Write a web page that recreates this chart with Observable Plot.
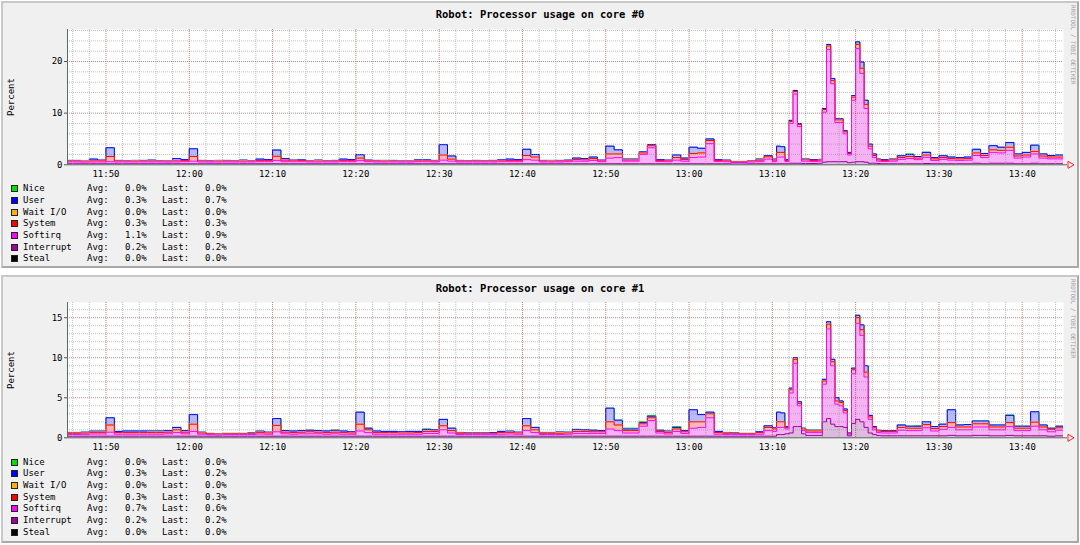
<!DOCTYPE html>
<html><head><meta charset="utf-8">
<script src="https://cdn.jsdelivr.net/npm/d3@7"></script>
<script src="https://cdn.jsdelivr.net/npm/@observablehq/plot@0.6"></script>
<style>
html,body{margin:0;padding:0;background:#fff;}
body{width:1080px;height:545px;overflow:hidden;position:relative;font-family:"DejaVu Sans Mono",monospace;color:#000;}
.panel{position:absolute;box-sizing:border-box;background:#f0f0f0;border-style:solid;border-width:2px;border-color:#c8c8c8 #a8a8a8 #a8a8a8 #c8c8c8;}
.title{position:absolute;left:0;width:1080px;text-align:center;font-weight:bold;font-size:10.5px;line-height:12px;}
.ylab{position:absolute;font-size:9px;line-height:10px;white-space:nowrap;transform:translate(-50%,-50%) rotate(-90deg);}
.credit{position:absolute;writing-mode:vertical-rl;font-size:6px;line-height:7px;color:#a0a0a0;white-space:nowrap;}
.leg{position:absolute;font-size:9px;line-height:11px;white-space:pre;}
.sq{position:absolute;width:5px;height:5px;border:1px solid #222;}
.chart{position:absolute;left:0;}
</style></head><body>
<script>
// ---- time axis: minutes after 11:45 ----
const minutes = [
0,1,2,3,4,5,6,7,8,9,
10,11,12,13,14,15,16,17,18,19,
20,21,22,23,24,25,26,27,28,29,
30,31,32,33,34,35,36,37,38,39,
40,41,42,43,44,45,46,47,48,49,
50,51,52,53,54,55,56,57,58,59,
60,61,62,63,64,65,66,67,68,69,
70,71,72,73,74,75,76,77,78,79,
80,81,82,83,84,85,
85.5,86,86.5,87,87.5,88,88.5,89,89.5,90,90.5,91,91.5,92,92.5,93,93.5,94,94.5,95,95.5,96,96.5,97,97.5,98,
99,100,101,102,103,104,105,106,107,108,109,110,111,112,113,114,115,116,117,118,119,120];

const xTickMinutes = [5,15,25,35,45,55,65,75,85,95,105,115];
const xTickLabels = ["11:50","12:00","12:10","12:20","12:30","12:40","12:50","13:00","13:10","13:20","13:30","13:40"];

const titles = ["Robot: Processor usage on core #0","Robot: Processor usage on core #1"];
const seriesNames = ["Nice","User","Wait I/O","System","Softirq","Interrupt","Steal"];
const avg0 = [0.0,0.3,0.0,0.3,1.1,0.2,0.0];
const last0 = [0.0,0.7,0.0,0.3,0.9,0.2,0.0];
const avg1 = [0.0,0.3,0.0,0.3,0.7,0.2,0.0];
const last1 = [0.0,0.2,0.0,0.3,0.6,0.2,0.0];

const yTicks0 = [0,10,20];
const yMinor0 = [2,4,6,8,12,14,16,18,22,24,26];
const yTicks1 = [0,5,10,15];
const yMinor1 = [1,2,3,4,6,7,8,9,11,12,13,14,16];

// ---- core #0 ----
const nice0 = [
0,0,0,0,0,0,0,0,0,0, 0,0,0,0,0,0,0,0,0,0, 0,0,0,0,0,0,0,0,0,0, 0,0,0,0,0,0,0,0,0,0,
0,0,0,0,0,0,0,0,0,0, 0,0,0,0,0,0,0,0,0,0, 0,0,0,0,0,0,0,0,0,0, 0,0,0,0,0,0,0,0,0,0,
0,0,0,0,0,0,0,0,0,0, 0,0,0,0,0,0,0,0,0,0, 0,0,0,0,0,0,0,0,0,0,
0,0,0,0,.1,0,.05,0,0,0, 0,0,0,0,0,0,0,0,0,0, 0,0,0,0];
const user0 = [
.15,.15,.1,.35,.15,1.7,.15,.1,.1,.15,
.2,.1,.1,.45,.2,1.5,.15,.15,.1,.15,
.1,.15,.1,.3,.2,1.2,.3,.15,.15,.1,
.15,.1,.15,.3,.2,.65,.15,.15,.1,.15,
.1,.1,.15,.2,.15,2.0,.6,.15,.1,.15,
.1,.15,.15,.3,.2,1.2,.5,.15,.1,.15,
.15,.3,.25,.3,.15,1.5,.8,.2,.2,.2,
.2,.15,.15,.5,.3,1.2,.9,.3,.15,.15,
.1,.1,.1,.2,.2,.2,
1.2,1.1,.15,.2,.2,.2,.15,.15,.15,.15,.15,.2,.3,.4,.2,.2,.2,.2,.3,.5,1.2,.8,.4,.3,.15,.15,
.15,.35,.4,.3,.5,.25,.35,.3,.25,.3,.7,.4,.8,.6,.9,.4,.5,1.2,.4,.3,.4,.5];
const wait0 = [
0,0,.05,0,0,0,0,0,.05,0, 0,0,0,0,0,0,0,0,.05,0, 0,.05,0,0,0,0,0,0,0,0, .05,0,0,0,0,0,0,0,.05,0,
0,0,.05,0,0,0,0,0,0,0, 0,0,.05,0,0,0,0,0,.05,0, 0,0,0,0,0,0,0,0,0,0, 0,0,0,0,0,0,0,0,0,0,
0,0,0,0,0,0,0,0,0,0, 0,0,0,0,0,0,0,0,0,0, 0,0,0,0,0,0,0,0,0,0,
0,0,0,0,0,0,0,0,0,0, 0,0,0,0,0,0,0,0,0,0, 0,0,0,0];
const system0 = [
.15,.15,.15,.2,.2,1.0,.15,.15,.15,.15,
.15,.15,.15,.2,.2,.9,.15,.15,.15,.15,
.15,.15,.15,.2,.2,.8,.3,.15,.2,.15,
.15,.15,.15,.2,.2,.5,.15,.15,.15,.15,
.15,.15,.15,.15,.15,1.0,.4,.15,.15,.15,
.15,.15,.15,.2,.2,.8,.6,.15,.15,.15,
.15,.3,.25,.35,.15,.8,.7,.2,.2,.3,
.4,.2,.15,.5,.3,.8,.8,.6,.2,.15,
.1,.1,.15,.3,.45,.3,
.9,.9,.2,.4,.5,.4,.25,.25,.2,.2,.2,.5,.7,.6,.5,.5,.4,.3,.6,.8,1.0,.8,.5,.4,.25,.2,
.25,.35,.4,.3,.45,.3,.35,.3,.3,.3,.5,.4,.5,.5,.6,.4,.4,.5,.4,.35,.35,.3];
const softirq0 = [
.35,.35,.33,.35,.35,.4,.35,.35,.35,.35,
.35,.35,.33,.35,.4,.5,.35,.33,.35,.35,
.35,.35,.35,.4,.4,.65,.4,.4,.4,.35,
.35,.35,.35,.4,.4,.6,.4,.35,.35,.35,
.33,.33,.4,.4,.35,.7,.5,.35,.35,.35,
.35,.35,.4,.4,.4,.8,.7,.35,.35,.35,
.4,.5,.5,.65,.4,1.1,1.2,.5,.5,1.8,
3.1,.45,.4,.7,.5,1.2,1.3,3.9,.45,.4,
.3,.3,.35,.4,.9,.4,
1.3,1.3,.45,7.7,13.4,7.1,.45,.45,.4,.4,.4,9.7,21.7,15.1,7.6,7.6,5.4,1.5,12.0,21.9,17.1,10.4,2.8,1.1,.45,.45,
.5,.85,1.0,.8,1.2,.65,.85,.7,.65,.7,1.5,1.2,2.1,2.0,2.5,1.1,1.3,1.8,1.1,.95,.95,.9];
const interrupt0 = [
.2,.2,.2,.2,.2,.2,.2,.2,.2,.2, .2,.2,.2,.2,.2,.2,.2,.2,.2,.2,
.2,.2,.2,.2,.2,.2,.2,.2,.2,.2, .2,.2,.2,.2,.2,.2,.2,.2,.2,.2,
.2,.2,.2,.2,.2,.2,.2,.2,.2,.2, .2,.2,.2,.2,.2,.2,.2,.2,.2,.2,
.2,.2,.2,.2,.2,.2,.2,.2,.2,.2, .2,.2,.2,.2,.2,.2,.2,.2,.2,.2,
.15,.15,.2,.2,.2,.2,
.2,.2,.2,.3,.3,.3,.25,.25,.25,.25,.3,.5,.6,.6,.6,.6,.6,.4,.5,.6,.6,.5,.3,.3,.25,.2,
.2,.2,.2,.2,.25,.2,.2,.2,.2,.2,.3,.2,.3,.3,.3,.2,.2,.3,.2,.2,.2,.2];
const steal0 = [
0,0,0,0,0,0,0,0,0,0, 0,0,0,0,0,0,0,0,0,0, 0,0,0,0,0,0,0,0,0,0, 0,0,0,0,0,0,0,0,0,0,
0,0,0,0,0,0,0,0,0,0, 0,0,0,0,0,0,0,0,0,0, 0,0,0,0,0,0,0,0,0,0, 0,0,0,0,0,0,0,0,0,0,
0,0,0,0,0,0,0,0,0,0, 0,0,0,0,0,0,0,0,0,0, 0,0,0,0,0,0,0,0,0,0,
0,0,0,0,0,0,0,0,0,0, 0,0,0,0,0,0,0,0,0,0, 0,0,0,0];

// ---- core #1 ----
const nice1 = [
0,0,0,0,0,0,0,0,0,0, 0,0,0,0,0,0,0,0,0,0, 0,0,0,0,0,0,0,0,0,0, 0,0,0,0,0,0,0,0,0,0,
0,0,0,.05,0,0,0,0,0,0, 0,0,0,0,0,0,0,0,0,0, 0,0,0,0,0,0,0,.1,.1,.1, .1,0,0,.1,0,0,0,0,0,0,
0,0,0,0,0,0,0,0,0,0, 0,0,0,.05,0,0,0,0,0,0, 0,0,0,0,0,0,0,0,0,0,
0,0,0,0,0,.05,0,0,0,0, .05,0,0,0,0,0,.05,0,0,0, 0,0,0,0];
const user1 = [
.1,.1,.12,.15,.15,.9,.15,.2,.2,.2,
.15,.15,.2,.3,.2,1.2,.1,.05,.05,.05,
.05,.05,.1,.15,.1,.85,.2,.2,.2,.2,
.2,.2,.2,.2,.15,1.5,.2,.2,.15,.15,
.15,.15,.15,.25,.2,.8,.3,.1,.05,.05,
.05,.1,.15,.15,.1,.9,.3,.1,.1,.1,
.1,.25,.2,.2,.15,1.7,.6,.2,.2,.15,
.2,.15,.15,.2,.15,1.5,.9,.2,.15,.1,
.05,.05,.05,.1,.2,.15,
1.2,1.1,.1,.2,.2,.2,.1,.1,.1,.1,.1,.2,.3,.3,.4,.2,.2,.05,.2,.3,.6,.8,.2,.15,.1,.1,
.1,.3,.25,.25,.35,.25,.3,1.6,.25,.3,.35,.35,.25,.25,.9,.25,.25,1.3,.25,.15,.2,.2];
const wait1 = [
0,0,0,0,0,0,0,0,0,0, .05,.05,0,0,0,0,0,0,0,0, 0,0,0,0,0,0,0,0,0,0, 0,0,.05,0,0,0,0,0,0,0,
0,.05,0,0,0,0,0,0,0,0, 0,0,0,0,0,0,0,0,0,.05, 0,0,0,0,0,0,0,0,0,0, 0,0,0,0,0,0,0,0,0,0,
0,0,0,0,0,0,0,0,0,0, 0,0,0,0,0,0,0,0,0,0, 0,0,0,0,0,0,0,0,0,0,
0,0,0,0,0,0,0,0,0,0, 0,0,0,0,0,0,0,0,0,0, 0,0,0,0];
const system1 = [
.15,.15,.15,.2,.2,.9,.2,.2,.2,.2,
.2,.2,.2,.35,.2,.9,.15,.1,.1,.1,
.1,.1,.1,.2,.15,.8,.2,.2,.2,.25,
.2,.2,.2,.2,.15,.85,.35,.2,.2,.2,
.15,.15,.2,.25,.25,.5,.3,.15,.12,.12,
.12,.12,.2,.2,.15,.6,.35,.15,.15,.15,
.15,.25,.25,.2,.2,.9,.7,.3,.3,.3,
.35,.2,.2,.3,.2,.8,.7,.5,.2,.15,
.12,.1,.1,.2,.4,.3,
.7,.7,.2,.4,.5,.3,.2,.2,.2,.2,.2,.4,.6,.5,.4,.4,.3,.1,.5,.7,.7,.6,.3,.25,.2,.2,
.2,.35,.3,.3,.4,.3,.35,.6,.35,.35,.4,.4,.35,.35,.5,.3,.3,.5,.35,.3,.3,.3];
const softirq1 = [
.22,.22,.23,.28,.28,.5,.25,.25,.25,.25,
.25,.25,.3,.45,.3,.6,.25,.2,.15,.2,
.2,.2,.2,.28,.25,.55,.3,.25,.3,.3,
.3,.25,.3,.25,.25,.65,.45,.25,.25,.25,
.25,.25,.25,.35,.35,.8,.4,.22,.23,.23,
.23,.23,.25,.28,.25,.7,.45,.22,.22,.22,
.25,.35,.35,.35,.35,.9,.7,.4,.4,1.25,
1.95,.4,.28,.6,.35,1.0,1.1,2.3,.25,.22,
.23,.2,.2,.25,.7,.6,
.9,.9,.6,5.0,7.9,2.6,.4,.35,.35,.35,.35,4.7,11.2,7.3,2.8,2.6,1.8,.2,6.2,12.0,10.8,6.3,1.7,.6,.35,.35,
.35,.7,.65,.65,1.0,.6,.8,1.0,.75,.75,1.05,1.05,.75,.75,1.1,.65,.65,1.2,.75,.55,.7,.7];
const interrupt1 = [
.2,.2,.2,.2,.2,.2,.2,.2,.2,.2, .2,.2,.2,.2,.2,.2,.2,.2,.2,.2,
.2,.2,.2,.2,.2,.2,.2,.2,.2,.2, .2,.2,.2,.2,.2,.2,.2,.2,.2,.2,
.2,.2,.2,.2,.2,.2,.2,.2,.2,.2, .2,.2,.2,.2,.2,.2,.2,.2,.2,.2,
.2,.2,.2,.2,.2,.2,.2,.2,.2,.2, .2,.2,.2,.2,.2,.2,.2,.2,.2,.2,
.2,.2,.2,.2,.2,.2,
.4,.4,.5,.6,1.4,1.4,.5,.3,.3,.3,.3,2.0,2.4,1.7,1.4,1.4,1.3,.25,1.8,2.3,2.0,1.3,.6,.4,.3,.25,
.25,.25,.25,.25,.25,.25,.25,.3,.25,.25,.3,.3,.25,.25,.3,.25,.25,.25,.25,.2,.25,.25];
const steal1 = [
0,0,0,0,0,0,0,0,0,0, 0,0,0,0,0,0,0,0,0,0, 0,0,0,0,0,0,0,0,0,0, 0,0,0,0,0,0,0,0,0,0,
0,0,0,0,0,0,0,0,0,0, 0,0,0,0,0,0,0,0,0,0, 0,0,0,0,0,0,0,0,0,0, 0,0,0,0,0,0,0,0,0,0,
0,0,0,0,0,0,0,0,0,0, 0,0,0,0,0,0,0,0,0,0, 0,0,0,0,0,0,0,0,0,0,
0,0,0,0,0,0,0,0,0,0, 0,0,0,0,0,0,0,0,0,0, 0,0,0,0];

// ---- styling ----
const KEYS = ["nice","user","wait","system","softirq","interrupt","steal"]; // legend order, top layer first
const LINE = {nice:"#00e000",user:"#0000ff",wait:"#ffb000",system:"#ff0000",softirq:"#ff00ff",interrupt:"#a000a0",steal:"#000000"};
const FILL = {nice:"#bff5bf",user:"#b9b9fb",wait:"#ffe8b8",system:"#fbb6b6",softirq:"#f5b2f5",interrupt:"#dfbadf",steal:"#bfbfbf"};
const stackOrder = KEYS.slice().reverse();

const W = 1080, H = 185, ML = 67, MR = 17, MT = 29, MB = 20.7;
const xDomain = [0.38, 119.95];
const pxPerMin = (W - ML - MR) / (xDomain[1] - xDomain[0]);
const xMinor = d3.range(1, 120, 2).filter(m => !xTickMinutes.includes(m));

const panels = [
  {title: titles[0], svgTop: 0, box: [1, 268], series: {nice:nice0,user:user0,wait:wait0,system:system0,softirq:softirq0,interrupt:interrupt0,steal:steal0},
   yMax: 26.2, yTicks: yTicks0, yMinor: yMinor0, avg: avg0, last: last0},
  {title: titles[1], svgTop: 273.4, box: [275, 543], series: {nice:nice1,user:user1,wait:wait1,system:system1,softirq:softirq1,interrupt:interrupt1,steal:steal1},
   yMax: 16.9, yTicks: yTicks1, yMinor: yMinor1, avg: avg1, last: last1}
];

function el(cls, css, text) {
  const d = document.createElement("div");
  d.className = cls;
  Object.assign(d.style, css);
  if (text != null) d.textContent = text;
  document.body.appendChild(d);
  return d;
}

function chart(p) {
  for (const k of KEYS) if (p.series[k].length !== minutes.length) console.error("length mismatch", k, p.series[k].length);
  const rows = minutes.map((t, i) => {
    const r = {t}; let c = 0;
    for (const k of stackOrder) { c += p.series[k][i]; r[k] = c; }
    return r;
  });
  const yMajor = p.yTicks.filter(v => v > 0);
  const marks = [Plot.frame({fill: "#ffffff", stroke: "none"})];
  // rrdtool style: for each stacked layer (top first) an AREA then its LINE1
  for (const k of KEYS) {
    marks.push(Plot.area(rows, {x1: "t", y1: 0, y2: k, curve: "step-after", fill: FILL[k], clip: true}));
    marks.push(Plot.line(rows, {x: "t", y: k, curve: "step-after", stroke: LINE[k], strokeWidth: 1, clip: true}));
  }
  // grid on top, semi-transparent dotted
  marks.push(Plot.ruleX(xMinor, {stroke: "#8c8c8c", strokeOpacity: 0.55, strokeDasharray: "1,1"}));
  marks.push(Plot.ruleY(p.yMinor, {stroke: "#8c8c8c", strokeOpacity: 0.55, strokeDasharray: "1,1"}));
  marks.push(Plot.ruleX(xTickMinutes, {stroke: "#a01e1e", strokeOpacity: 0.55, strokeDasharray: "1,1"}));
  marks.push(Plot.ruleY(yMajor, {stroke: "#a01e1e", strokeOpacity: 0.55, strokeDasharray: "1,1"}));
  marks.push(Plot.ruleX([xDomain[0]], {stroke: "#5a6a64"}));
  marks.push(Plot.ruleY([0], {x1: xDomain[0], x2: xDomain[1] + 4 / pxPerMin, stroke: "#5a6a64"}));
  marks.push(Plot.dot([0], {x: () => xDomain[1] + 6.5 / pxPerMin, y: () => 0, symbol: "triangle", rotate: 90, r: 2.6, fill: "none", stroke: "#ff2020", strokeWidth: 1}));
  marks.push(Plot.axisY({ticks: p.yTicks, tickSize: 3, tickPadding: 2, tickFormat: d => String(d), stroke: "#555", label: null}));
  marks.push(Plot.axisX({ticks: xTickMinutes, tickSize: 0, tickPadding: 5.5, tickFormat: d => xTickLabels[xTickMinutes.indexOf(d)], label: null}));
  return Plot.plot({
    width: W, height: H, marginLeft: ML, marginRight: MR, marginTop: MT, marginBottom: MB,
    x: {domain: xDomain, axis: null, label: null},
    y: {domain: [0, p.yMax], axis: null, label: null},
    style: {background: "none", overflow: "visible", fontFamily: "'DejaVu Sans Mono', monospace", fontSize: "9px", color: "#000"},
    marks
  });
}

panels.forEach((p) => {
  const [b0, b1] = p.box;
  el("panel", {left: "1px", top: b0 + "px", width: "1078px", height: (b1 - b0) + "px"});
  el("title", {top: (b0 + 7) + "px"}, p.title);
  const plotTop = p.svgTop + MT, plotBot = p.svgTop + H - MB;
  el("ylab", {left: "11px", top: ((plotTop + plotBot) / 2) + "px"}, "Percent");
  el("credit", {left: "1069.5px", top: (b0 + 4) + "px"}, "RRDTOOL / TOBI OETIKER");
  const holder = el("chart", {top: p.svgTop + "px"});
  holder.appendChild(chart(p));
  const legTop = plotBot + 24.4;
  seriesNames.forEach((name, k) => {
    const cy = legTop + k * 11.67;
    el("sq", {left: "11px", top: (cy - 3.5) + "px", background: LINE[KEYS[k]]});
    el("leg", {left: "23px", top: (cy - 5.5) + "px"}, name);
    el("leg", {left: "87px", top: (cy - 5.5) + "px"}, "Avg:");
    el("leg", {left: "125px", top: (cy - 5.5) + "px"}, p.avg[k].toFixed(1) + "%");
    el("leg", {left: "162px", top: (cy - 5.5) + "px"}, "Last:");
    el("leg", {left: "205px", top: (cy - 5.5) + "px"}, p.last[k].toFixed(1) + "%");
  });
});
</script>
</body></html>
